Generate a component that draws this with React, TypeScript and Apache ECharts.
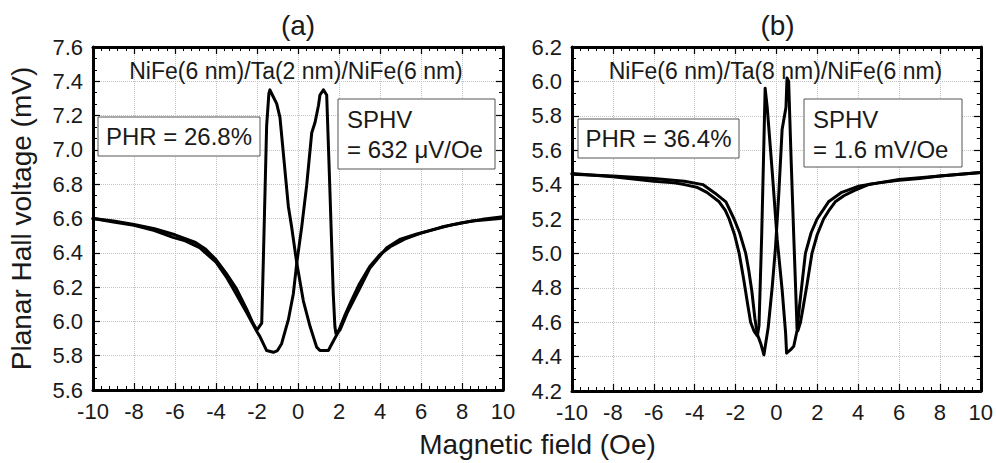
import React, { useEffect, useRef } from "react";
import * as echarts from "echarts";

// ---- Data ----
const xRange: [number, number] = [-10, 10];
const yRangeA: [number, number] = [5.6, 7.6];
const yRangeB: [number, number] = [4.2, 6.2];

const panelTitles = ["(a)", "(b)"];
const stackLabels = ["NiFe(6 nm)/Ta(2 nm)/NiFe(6 nm)", "NiFe(6 nm)/Ta(8 nm)/NiFe(6 nm)"];
const phrLabels = ["PHR = 26.8%", "PHR = 36.4%"];
const sphvLabels = [["SPHV", "= 632 \u03bcV/Oe"], ["SPHV", "= 1.6 mV/Oe"]];
const xAxisTitle = "Magnetic field (Oe)";
const yAxisTitle = "Planar Hall voltage (mV)";

// Panel (a): sweep from +10 to -10
const aDown: [number, number][] = [
  [10, 6.61], [9, 6.595], [8, 6.575], [7, 6.55], [6, 6.515], [5.2, 6.48], [4.5, 6.435], [4, 6.39],
  [3.5, 6.32], [3, 6.22], [2.6, 6.12], [2.3, 6.04], [2.0, 5.95], [1.85, 5.93], [1.8, 5.97],
  [1.72, 6.16], [1.56, 6.75], [1.4, 7.32], [1.24, 7.35], [1.07, 7.32], [1.0, 7.26], [0.83, 7.16],
  [0.67, 7.1], [0.42, 6.79], [0.18, 6.55], [-0.06, 6.34], [-0.23, 6.16], [-0.47, 6.01], [-0.8, 5.87],
  [-1.0, 5.83], [-1.2, 5.82], [-1.53, 5.83], [-1.85, 5.91], [-2.0, 5.94], [-2.5, 6.05], [-3.16, 6.19],
  [-3.5, 6.26], [-4, 6.345], [-4.8, 6.43], [-5.5, 6.47], [-6.1, 6.49], [-7, 6.53], [-8, 6.56],
  [-9, 6.58], [-10, 6.6],
];
// Panel (a): sweep from -10 to +10
const aUp: [number, number][] = [
  [-10, 6.6], [-9, 6.585], [-8, 6.565], [-7, 6.54], [-6, 6.505], [-5, 6.46], [-4.5, 6.42], [-4, 6.36],
  [-3.5, 6.28], [-3, 6.19], [-2.5, 6.07], [-2.2, 5.99], [-2.0, 5.95], [-1.77, 5.99], [-1.69, 6.36],
  [-1.61, 6.75], [-1.53, 7.14], [-1.42, 7.33], [-1.37, 7.35], [-1.25, 7.32], [-1.04, 7.27],
  [-0.88, 7.19], [-0.47, 6.67], [-0.31, 6.55], [-0.06, 6.34], [0.26, 6.12], [0.59, 5.97], [0.91, 5.85],
  [1.07, 5.83], [1.48, 5.83], [1.7, 5.88], [1.97, 5.94], [2.05, 5.95], [2.4, 6.05], [2.7, 6.12],
  [3.0, 6.19], [3.5, 6.31], [4.33, 6.43], [5, 6.48], [5.8, 6.51], [7.4, 6.56], [8.5, 6.585],
  [9.85, 6.6], [10, 6.605],
];
// Panel (b): sweep from +10 to -10
const bDown: [number, number][] = [
  [10, 5.47], [9, 5.46], [8, 5.45], [7, 5.435], [6, 5.425], [5, 5.41], [4.5, 5.4], [3.8, 5.365],
  [3.3, 5.335], [2.88, 5.3], [2.6, 5.255], [2.31, 5.2], [2.0, 5.11], [1.74, 5.0], [1.5, 4.82],
  [1.3, 4.68], [1.18, 4.6], [1.05, 4.55], [1.01, 4.57], [0.85, 5.1], [0.72, 5.55], [0.6, 6.0],
  [0.52, 6.02], [0.47, 5.85], [0.28, 5.72], [0.12, 5.35], [-0.04, 5.04], [-0.2, 4.81], [-0.4, 4.57],
  [-0.61, 4.41], [-0.75, 4.47], [-0.93, 4.53], [-1.05, 4.62], [-1.2, 4.78], [-1.35, 4.9], [-1.5, 5.0],
  [-1.8, 5.12], [-2.07, 5.2], [-2.47, 5.3], [-3, 5.35], [-3.6, 5.4], [-4.5, 5.42], [-6, 5.435],
  [-8, 5.45], [-10, 5.46],
];
// Panel (b): sweep from -10 to +10
const bUp: [number, number][] = [
  [-10, 5.465], [-8, 5.445], [-6, 5.42], [-5, 5.41], [-4.5, 5.4], [-3.9, 5.385], [-3.4, 5.355],
  [-2.8, 5.3], [-2.5, 5.25], [-2.31, 5.2], [-2.05, 5.11], [-1.82, 5.0], [-1.6, 4.85], [-1.4, 4.7],
  [-1.26, 4.6], [-1.1, 4.55], [-0.93, 4.52], [-0.85, 4.58], [-0.72, 5.1], [-0.62, 5.6], [-0.55, 5.96],
  [-0.45, 5.85], [-0.2, 5.47], [0.04, 5.08], [0.28, 4.79], [0.45, 4.54], [0.5, 4.42], [0.7, 4.44],
  [0.85, 4.46], [1.01, 4.55], [1.12, 4.68], [1.25, 4.82], [1.42, 5.0], [1.7, 5.12], [1.99, 5.2],
  [2.55, 5.3], [3.2, 5.355], [4.0, 5.39], [5, 5.41], [6, 5.43], [8, 5.45], [10, 5.47],
];

const FONT = "'Liberation Sans', Arial, Helvetica, sans-serif";
const TXT = "#1a1a1a";

export default function App() {
  const ref = useRef<HTMLDivElement>(null);

  useEffect(() => {
    if (!ref.current) return;
    const chart = echarts.init(ref.current, undefined, { renderer: "svg" });

    const grids = [
      { left: 93, top: 47, width: 410, height: 343 },
      { left: 572, top: 47, width: 411, height: 344 },
    ];
    const yRanges = [yRangeA, yRangeB];

    const axisLine = { show: true, onZero: false, lineStyle: { color: "#000", width: 3 } };
    const splitLine = { show: true, lineStyle: { color: "#c4c4c4", type: "dotted" as const, width: 1 } };

    const xAxes: any[] = [];
    const yAxes: any[] = [];
    grids.forEach((_, i) => {
      const common = {
        type: "value",
        gridIndex: i,
        min: xRange[0],
        max: xRange[1],
        interval: 2,
        axisLine,
        axisTick: { show: true, inside: true, length: 7, lineStyle: { color: "#000", width: 1.2 } },
        minorTick: { show: true, splitNumber: 5, length: 4, lineStyle: { color: "#000", width: 1 } },
      };
      xAxes.push({
        ...common,
        position: "bottom",
        splitLine,
        axisLabel: { show: true, margin: 10, fontSize: 22, color: TXT, fontFamily: FONT },
      });
      xAxes.push({ ...common, position: "top", splitLine: { show: false }, axisLabel: { show: false } });

      const yc = {
        type: "value",
        gridIndex: i,
        min: yRanges[i][0],
        max: yRanges[i][1],
        interval: 0.2,
        axisLine,
        axisTick: { show: true, inside: true, length: 7, lineStyle: { color: "#000", width: 1.2 } },
        minorTick: { show: true, splitNumber: 3, length: 4, lineStyle: { color: "#000", width: 1 } },
      };
      yAxes.push({
        ...yc,
        position: "left",
        splitLine,
        axisLabel: {
          show: true,
          margin: 10,
          fontSize: 22,
          color: TXT,
          fontFamily: FONT,
          formatter: (v: number) => v.toFixed(1),
        },
        ...(i === 0
          ? {
              name: yAxisTitle,
              nameLocation: "middle",
              nameRotate: 90,
              nameGap: 58,
              nameTextStyle: { fontSize: 28, color: TXT, fontFamily: FONT },
            }
          : {}),
      });
      yAxes.push({ ...yc, position: "right", splitLine: { show: false }, axisLabel: { show: false } });
    });

    const lineSeries = (data: [number, number][], i: number) => ({
      type: "line",
      xAxisIndex: i * 2,
      yAxisIndex: i * 2,
      data,
      showSymbol: false,
      symbol: "none",
      lineStyle: { color: "#000", width: 3, join: "round", cap: "round" },
      z: 5,
    });

    const graphics: any[] = [];
    const centers = [298, 777.5];
    const phrBoxes = [
      { x: 98, y: 117, w: 162, h: 39 },
      { x: 578, y: 119, w: 161, h: 39 },
    ];
    const sphvBoxes = [
      { x: 338, y: 99, w: 157, h: 70 },
      { x: 804, y: 99, w: 158, h: 68 },
    ];
    [0, 1].forEach((i) => {
      graphics.push({
        type: "text",
        x: centers[i],
        y: 25,
        style: { text: panelTitles[i], fontSize: 28, fontFamily: FONT, fill: TXT, align: "center", verticalAlign: "middle" },
      });
      graphics.push({
        type: "text",
        x: centers[i] - 2,
        y: 71,
        z: 10,
        style: { text: stackLabels[i], fontSize: 23, fontFamily: FONT, fill: TXT, align: "center", verticalAlign: "middle" },
      });
      const pb = phrBoxes[i];
      graphics.push({
        type: "rect",
        shape: { x: pb.x, y: pb.y, width: pb.w, height: pb.h },
        style: { fill: "#fff", stroke: "#555", lineWidth: 1 },
        z: 10,
      });
      graphics.push({
        type: "text",
        x: pb.x + pb.w / 2,
        y: pb.y + pb.h / 2,
        z: 11,
        style: { text: phrLabels[i], fontSize: 24, fontFamily: FONT, fill: TXT, align: "center", verticalAlign: "middle" },
      });
      const sb = sphvBoxes[i];
      graphics.push({
        type: "rect",
        shape: { x: sb.x, y: sb.y, width: sb.w, height: sb.h },
        style: { fill: "#fff", stroke: "#555", lineWidth: 1 },
        z: 10,
      });
      sphvLabels[i].forEach((t, k) => {
        graphics.push({
          type: "text",
          x: sb.x + 9,
          y: sb.y + 20 + k * 30,
          z: 11,
          style: { text: t, fontSize: 24, fontFamily: FONT, fill: TXT, align: "left", verticalAlign: "middle" },
        });
      });
    });
    graphics.push({
      type: "text",
      x: 537.5,
      y: 444,
      style: { text: xAxisTitle, fontSize: 28, fontFamily: FONT, fill: TXT, align: "center", verticalAlign: "middle" },
    });

    chart.setOption({
      animation: false,
      backgroundColor: "#fff",
      grid: grids.map((g) => ({ ...g, containLabel: false })),
      xAxis: xAxes,
      yAxis: yAxes,
      series: [lineSeries(aDown, 0), lineSeries(aUp, 0), lineSeries(bDown, 1), lineSeries(bUp, 1)],
      graphic: graphics,
    });

    return () => chart.dispose();
  }, []);

  return (
    <div
      ref={ref}
      style={{ position: "fixed", left: 0, top: 0, width: 996, height: 463, background: "#fff" }}
    />
  );
}
